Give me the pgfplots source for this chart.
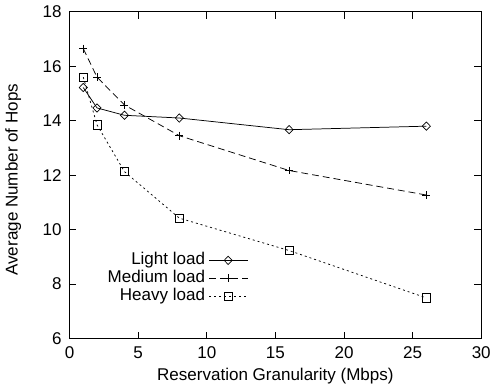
\documentclass[border=0pt]{standalone}
\usepackage{pgfplots}
\pgfplotsset{compat=1.18}
\usepackage{fontspec}
\setmainfont{Liberation Sans}
\newcommand{\lbl}{\fontsize{17.2}{17.2}\selectfont}
\begin{document}
\begin{tikzpicture}
\begin{axis}[
  name=ax,
  scale only axis,
  width=416pt, height=330pt,
  xmin=0, xmax=30, ymin=6, ymax=18,
  xtick={0,5,...,30}, ytick={6,8,...,18},
  tick align=inside, tick pos=both,
  major tick length=7pt,
  axis line style={line width=0.9pt},
  tick style={line width=0.8pt, black},
  /pgf/number format/assume math mode=true,
  tick label style={font=\lbl},
  yticklabel style={xshift=-4.5pt},
  xticklabel style={yshift=-4.5pt},
  xlabel={Reservation Granularity (Mbps)},
  ylabel={Average Number of Hops},
  xlabel style={font=\lbl, at={(axis description cs:0.5,-0.1273)}, anchor=base},
  ylabel style={font=\lbl, at={(axis description cs:-0.1262,0.486)}, anchor=base},
  every axis plot/.append style={line width=0.75pt},
  legend style={draw=none, fill=none, inner sep=0pt, outer sep=0pt,
    at={(axis cs:13.03,9.2)}, anchor=north east,
    font=\lbl, row sep=0pt, column sep=4pt,
    nodes={inner sep=0pt, outer sep=0pt, text height=13pt, text depth=5.2pt}},
  legend cell align=right,
  legend plot pos=right,
  legend image code/.code={\draw[mark repeat=2,mark phase=2,#1] plot coordinates {(0pt,0pt) (19pt,0pt) (39pt,0pt)};},
]
\addplot[black, mark=diamond, mark size=4.2pt, mark options={solid, xscale=1.3, line width=0.7pt}] coordinates {
(1,15.22) (2,14.47) (4,14.2) (8,14.1) (16,13.67) (26,13.8)};
\addlegendentry{Light load}
\addplot[black, dash pattern=on 7pt off 4pt, mark=+, mark size=4pt, mark options={solid, line width=0.7pt}] coordinates {
(1,16.65) (2,15.6) (4,14.58) (8,13.45) (16,12.17) (26,11.27)};
\addlegendentry{Medium load}
\addplot[black, dash pattern=on 2pt off 3pt, mark=square, mark size=4.2pt, mark options={solid, line width=0.7pt}] coordinates {
(1,15.6) (2,13.85) (4,12.13) (8,10.42) (16,9.23) (26,7.49)};
\addlegendentry{Heavy load}
\end{axis}
\path[use as bounding box] (ax.south west) ++(-70.3pt,-47.3pt) rectangle ([xshift=8pt,yshift=12pt]ax.north east);
\end{tikzpicture}
\end{document}
